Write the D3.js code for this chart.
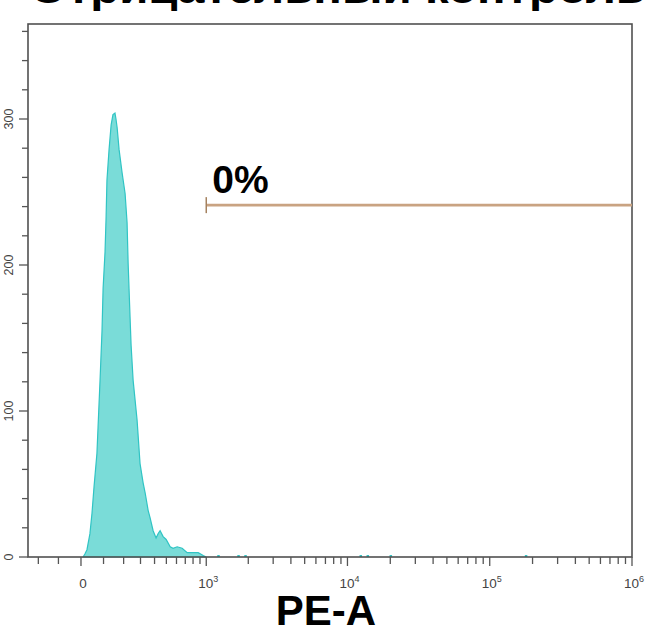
<!DOCTYPE html>
<html>
<head>
<meta charset="utf-8">
<script src="https://cdn.jsdelivr.net/npm/d3@7"></script>
<style>
  html, body { margin: 0; padding: 0; background: #fff; }
  svg { display: block; }
</style>
</head>
<body>
<svg id="chart" width="651" height="628"></svg>
<script>
// ---------- data ----------
const titleText = "Отрицательный контроль";
const xAxisTitle = "PE-A";
const gateLabel = "0%";

// histogram outline: PE-A value (bin position) and event count
const binValues = [9, 17, 26, 39, 48, 57, 70, 75, 84, 93, 98, 107, 112, 116, 126, 136, 145, 155, 160, 166, 176, 192, 208, 219, 225, 236, 242, 254, 278, 297, 317, 331, 352, 366, 389, 412, 429, 445, 471, 498, 536, 565, 607, 663, 723, 802, 873, 950, 1000];
const binCounts = [0, 2, 5, 16, 30, 48, 71, 89, 121, 155, 184, 209, 233, 258, 279, 296, 303, 304, 300, 294, 279, 263, 249, 229, 201, 164, 145, 121, 94, 64, 51, 44, 32, 27, 18, 13, 16, 18, 14, 12, 7, 6, 7, 6, 3, 3, 3, 1, 0];

// isolated single events further right
const sparseValues = [1221, 1699, 1905, 12355, 13845, 20090, 179400];
const sparseCounts = [1, 1, 1, 1, 1, 1, 1];

// gate
const gateFrom = 1000, gateTo = 1e6, gateLevel = 241;

// axes
const yMajorTicks = [0, 100, 200, 300];
const yMinorTicks = [20, 40, 60, 80, 120, 140, 160, 180, 220, 240, 260, 280, 320, 340, 360];
const xMajorTicks = [0, 1e3, 1e4, 1e5, 1e6];
const xMajorBase = ["0", "10", "10", "10", "10"];
const xMajorExp = ["", "3", "4", "5", "6"];
const xMinorTicks = [-200, -100, 100, 200, 300, 400, 500, 600, 700, 800, 900,
  2e3, 3e3, 4e3, 5e3, 6e3, 7e3, 8e3, 9e3,
  2e4, 3e4, 4e4, 5e4, 6e4, 7e4, 8e4, 9e4,
  2e5, 3e5, 4e5, 5e5, 6e5, 7e5, 8e5, 9e5];

// ---------- scales ----------
const W = 268; // biexponential linear width
const tf = v => Math.asinh(v / W);
const pLeft = 28, pRight = 632, pTop = 24, pBottom = 557;
const lin = d3.scaleLinear().domain([tf(-259), tf(1e6)]).range([pLeft, pRight]);
const x = v => lin(tf(v));
const y = d3.scaleLinear().domain([0, 300]).range([pBottom, 119]);

const svg = d3.select("#chart");

// title (cut off at the top)
svg.append("text")
  .attr("x", 30).attr("y", 3)
  .attr("textLength", 615).attr("lengthAdjust", "spacingAndGlyphs")
  .attr("font-family", "Liberation Sans, Arial, sans-serif")
  .attr("font-weight", "bold").attr("font-size", 40)
  .attr("fill", "#000")
  .text(titleText);

// histogram
const pts = binValues.map((v, i) => [v, binCounts[i]]);
const area = d3.area().x(d => x(d[0])).y0(y(0)).y1(d => y(d[1])).curve(d3.curveLinear);
svg.append("path").datum(pts)
  .attr("d", area)
  .attr("fill", "#7adcd8")
  .attr("stroke", "#30c4c4").attr("stroke-width", 1.2);

svg.selectAll("rect.sparse").data(sparseValues).enter().append("rect")
  .attr("class", "sparse")
  .attr("x", d => x(d) - 1).attr("width", 2.5)
  .attr("y", (d, i) => y(sparseCounts[i]) - 0.5)
  .attr("height", (d, i) => y(0) - y(sparseCounts[i]) + 0.5)
  .attr("fill", "#30c4c4");

// frame
svg.append("rect")
  .attr("x", pLeft).attr("y", pTop)
  .attr("width", pRight - pLeft).attr("height", pBottom - pTop)
  .attr("fill", "none").attr("stroke", "#505050").attr("stroke-width", 1.6);

// y ticks
const gy = svg.append("g");
gy.selectAll("line.maj").data(yMajorTicks).enter().append("line")
  .attr("class", "maj")
  .attr("x1", pLeft - 9).attr("x2", pLeft).attr("y1", d => y(d)).attr("y2", d => y(d))
  .attr("stroke", "#555").attr("stroke-width", 1.3);
gy.selectAll("line.min").data(yMinorTicks).enter().append("line")
  .attr("class", "min")
  .attr("x1", pLeft - 6).attr("x2", pLeft).attr("y1", d => y(d)).attr("y2", d => y(d))
  .attr("stroke", "#555").attr("stroke-width", 1.3);
gy.selectAll("text").data(yMajorTicks).enter().append("text")
  .attr("transform", d => `translate(13,${y(d)}) rotate(-90)`)
  .attr("text-anchor", "middle")
  .attr("font-family", "Liberation Sans, Arial, sans-serif")
  .attr("font-size", 12.5).attr("fill", "#444")
  .text(d => d);

// x ticks
const gx = svg.append("g");
gx.selectAll("line.maj").data(xMajorTicks).enter().append("line")
  .attr("class", "maj")
  .attr("x1", d => x(d)).attr("x2", d => x(d)).attr("y1", pBottom).attr("y2", pBottom + 9)
  .attr("stroke", "#555").attr("stroke-width", 1.3);
gx.selectAll("line.min").data(xMinorTicks).enter().append("line")
  .attr("class", "min")
  .attr("x1", d => x(d)).attr("x2", d => x(d)).attr("y1", pBottom).attr("y2", pBottom + 7)
  .attr("stroke", "#555").attr("stroke-width", 1.3);
const xl = gx.selectAll("text").data(xMajorTicks).enter().append("text")
  .attr("x", d => x(d) + 2).attr("y", 588)
  .attr("text-anchor", "middle")
  .attr("font-family", "Liberation Sans, Arial, sans-serif")
  .attr("font-size", 13.5).attr("fill", "#444");
xl.append("tspan").text((d, i) => xMajorBase[i]);
xl.append("tspan").attr("font-size", 9).attr("dy", -6).text((d, i) => xMajorExp[i]);

// gate
svg.append("line")
  .attr("x1", x(gateFrom)).attr("x2", x(gateTo))
  .attr("y1", y(gateLevel)).attr("y2", y(gateLevel))
  .attr("stroke", "#c9a382").attr("stroke-width", 2.6);
svg.append("line")
  .attr("x1", x(gateFrom)).attr("x2", x(gateFrom))
  .attr("y1", y(gateLevel) - 8).attr("y2", y(gateLevel) + 8)
  .attr("stroke", "#a5825f").attr("stroke-width", 1.5);
svg.append("text")
  .attr("x", x(gateFrom) + 6).attr("y", 193)
  .attr("font-family", "Liberation Sans, Arial, sans-serif")
  .attr("font-weight", "bold").attr("font-size", 39).attr("fill", "#000")
  .text(gateLabel);

// x axis title
svg.append("text")
  .attr("x", 326).attr("y", 625)
  .attr("text-anchor", "middle")
  .attr("font-family", "Liberation Sans, Arial, sans-serif")
  .attr("font-weight", "bold").attr("font-size", 42).attr("fill", "#000")
  .text(xAxisTitle);
</script>
</body>
</html>
